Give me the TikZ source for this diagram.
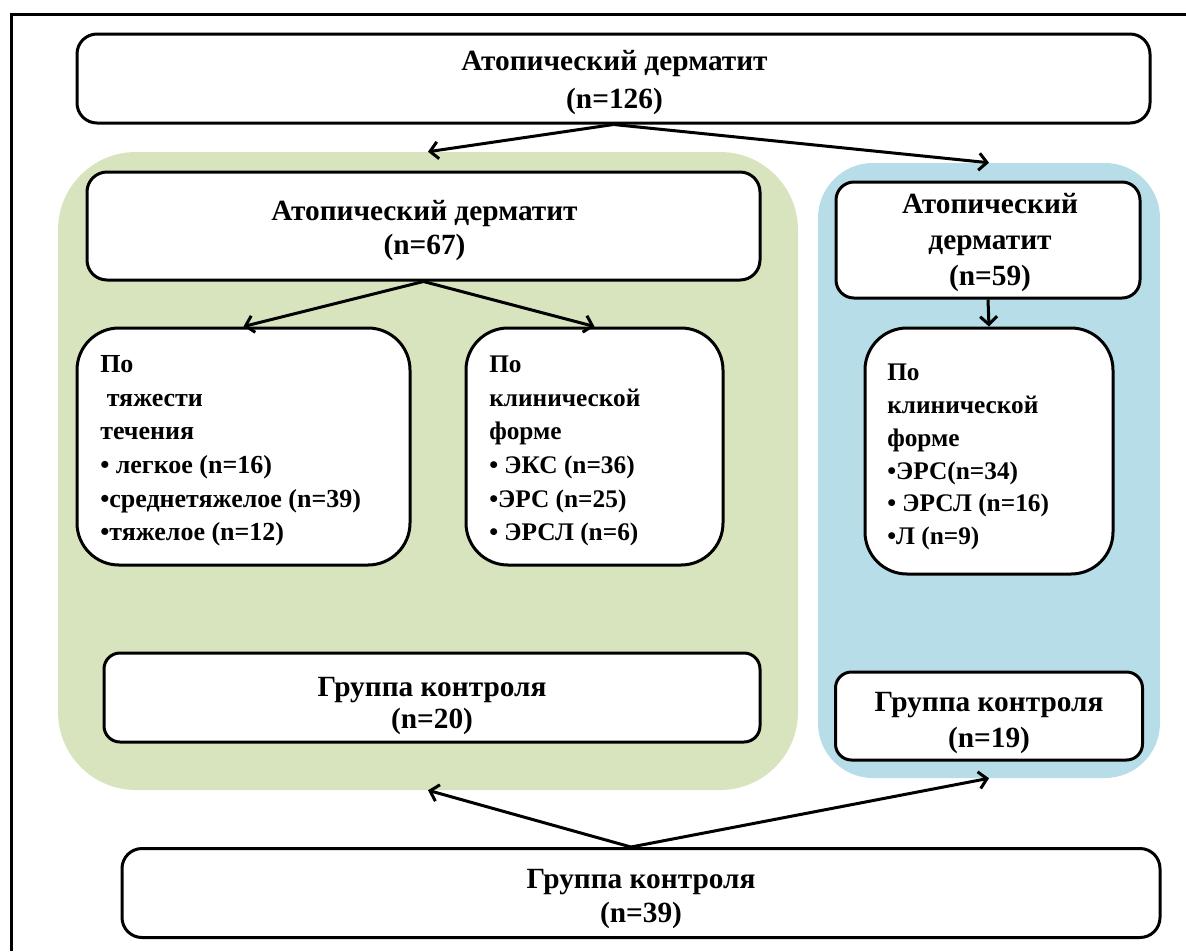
\documentclass[tikz,border=0pt]{standalone}
\usepackage{fontspec}
\setmainfont{Liberation Serif}
\usetikzlibrary{arrows.meta,calc}
\def\u{0.75pt}
\definecolor{lgreen}{HTML}{D7E4BD}
\definecolor{lblue}{HTML}{B7DEE8}
\tikzset{
  box/.style={draw=black, line width=3*\u, fill=white, inner sep=0pt},
  txt/.style n args={2}{inner sep=0pt, align=center, font=\fontsize{#1}{#2}\selectfont\bfseries},
  ltxt/.style n args={2}{inner sep=0pt, align=left, anchor=west, font=\fontsize{#1}{#2}\selectfont\bfseries},
  arr/.style={line width=3*\u, -{Straight Barb[length=8*\u, width=17*\u, line width=3*\u]}},
  region/.style={inner sep=0pt}
}
\begin{document}
\begin{tikzpicture}[x=0.75pt, y=-0.75pt]
\useasboundingbox (0,0) rectangle (1186,951);
% frame
\draw[line width=3*\u] (11,951) -- (11,14) -- (1186,14);
% regions
\node[region, fill=lgreen, rounded corners=78*\u, minimum width=740*\u, minimum height=638*\u] (green) at (428,471) {};
\node[region, fill=lblue, rounded corners=55*\u, minimum width=342*\u, minimum height=615*\u] (blue) at (989,470.5) {};
% boxes
\node[box, rounded corners=20*\u, minimum width=1073*\u, minimum height=89*\u] (top) at (613.5,78.5) {};
\node[box, rounded corners=20*\u, minimum width=673*\u, minimum height=108*\u] (ad67) at (423.5,226) {};
\node[box, rounded corners=18*\u, minimum width=304*\u, minimum height=116*\u] (ad59) at (988,240) {};
\node[box, rounded corners=42*\u, minimum width=333*\u, minimum height=237*\u] (sev) at (243.5,446.5) {};
\node[box, rounded corners=42*\u, minimum width=257*\u, minimum height=237*\u] (clinL) at (594.5,446.5) {};
\node[box, rounded corners=42*\u, minimum width=248*\u, minimum height=246*\u] (clinR) at (989,451) {};
\node[box, rounded corners=16*\u, minimum width=656*\u, minimum height=89*\u] (c20) at (432,697.5) {};
\node[box, rounded corners=16*\u, minimum width=307*\u, minimum height=88*\u] (c19) at (989,716) {};
\node[box, rounded corners=20*\u, minimum width=1038*\u, minimum height=89*\u] (bot) at (641,893) {};
% texts
\node[txt={22}{28.5}] (topt) at (614.5,83) {Атопический дерматит\\(n=126)};
\node[txt={22}{25.5}] (ad67t) at (424.5,231) {Атопический дерматит\\(n=67)};
\node[txt={22}{27}] (ad59t) at (990,243) {Атопический\\дерматит\\(n=59)};
\node[ltxt={19.5}{25.2}] (sevt) at (100,451) {По\\\ тяжести\\течения\\• легкое (n=16)\\•среднетяжелое (n=39)\\•тяжелое (n=12)};
\node[ltxt={19}{25.2}] (clinLt) at (489,451) {По\\клинической\\форме\\• ЭКС (n=36)\\•ЭРС (n=25)\\• ЭРСЛ (n=6)};
\node[ltxt={19}{24.6}] (clinRt) at (887,457) {По\\клинической\\форме\\•ЭРС(n=34)\\• ЭРСЛ (n=16)\\•Л (n=9)};
\node[txt={22}{24}] (c20t) at (432,706) {Группа контроля\\(n=20)};
\node[txt={22}{27.5}] (c19t) at (989,723) {Группа контроля\\(n=19)};
\node[txt={22}{25}] (bott) at (641,899) {Группа контроля\\(n=39)};
% connectors
\draw[arr] (top.south) -- (green.north);
\draw[arr] (top.south) -- (blue.north);
\draw[arr] (ad67.south) -- (sev.north);
\draw[arr] (ad67.south) -- (clinL.north);
\draw[arr] (ad59.south) -- (clinR.north);
\coordinate (bapex) at ($(bot.north)+(-10,0)$);
\draw[arr] (bapex) -- (green.south);
\draw[arr] (bapex) -- (blue.south);
\end{tikzpicture}
\end{document}
